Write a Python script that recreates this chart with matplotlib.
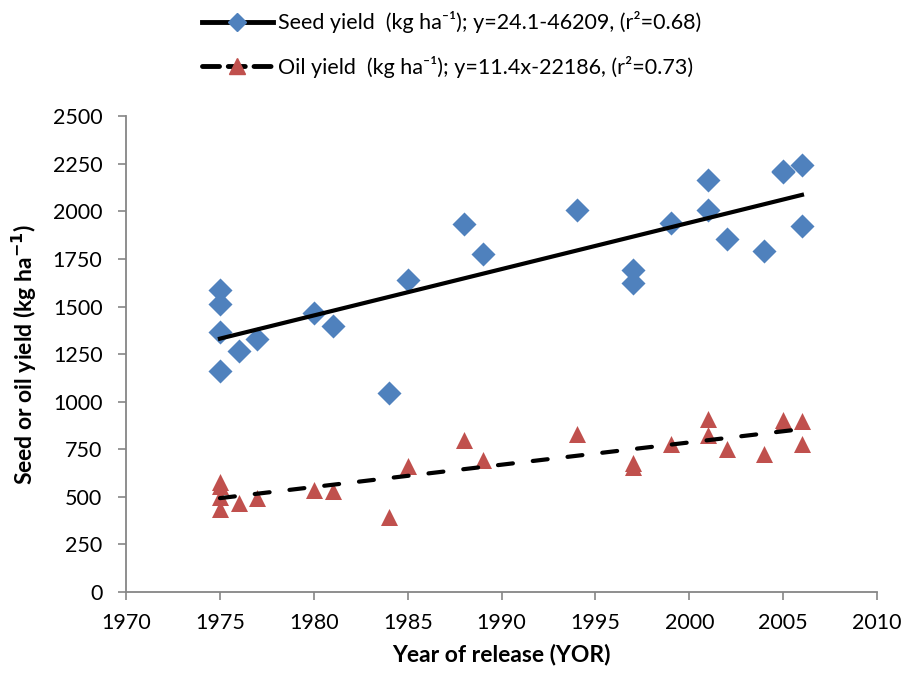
import numpy as np
import matplotlib.pyplot as plt
from matplotlib.lines import Line2D

plt.rcParams['font.family'] = ['Lato', 'DejaVu Sans']

# data
seed_year = [1975, 1975, 1975, 1975, 1976, 1977, 1980, 1981, 1984, 1985, 1988, 1989,
             1994, 1997, 1997, 1999, 2001, 2001, 2002, 2004, 2005, 2005, 2006, 2006]
seed_yield = [1586, 1513, 1367, 1162, 1267, 1327, 1464, 1399, 1044, 1639, 1933, 1774,
              2006, 1691, 1621, 1936, 2167, 2006, 1857, 1791, 2204, 2212, 2243, 1922]
oil_year = [1975, 1975, 1975, 1975, 1976, 1977, 1980, 1981, 1984, 1985, 1988, 1989,
            1994, 1997, 1997, 1999, 2001, 2001, 2002, 2004, 2005, 2005, 2006, 2006]
oil_yield = [579, 555, 500, 435, 466, 492, 536, 532, 396, 662, 798, 693,
             828, 676, 658, 776, 909, 825, 751, 725, 903, 886, 900, 776]

seed_label = "Seed yield  (kg ha\u207b\u00b9); y=24.1-46209, (r\u00b2=0.68)"
oil_label = "Oil yield  (kg ha\u207b\u00b9); y=11.4x-22186, (r\u00b2=0.73)"

blue = '#4F81BD'
red = '#C0504D'
grey = '#868686'

fig = plt.figure(figsize=(9.07, 6.79), dpi=100)
ax = fig.add_axes([0.139, 0.128, 0.828, 0.701])

ax.scatter(seed_year, seed_yield, marker='D', s=150, color=blue, zorder=3, linewidths=0)
ax.scatter(oil_year, oil_yield, marker='^', s=150, color=red, zorder=3, linewidths=0)

# linear trend lines (least squares like Excel)
xs = np.array([min(seed_year), max(seed_year)])
p = np.polyfit(seed_year, seed_yield, 1)
ax.plot(xs, np.polyval(p, xs), color='black', lw=3, zorder=4)
xo = np.array([min(oil_year), max(oil_year)])
q = np.polyfit(oil_year, oil_yield, 1)
ax.plot(xo, np.polyval(q, xo), color='black', lw=3, ls=(0, (3.6, 4.8)),
        dash_capstyle='round', zorder=4)

ax.set_xlim(1970, 2010)
ax.set_ylim(0, 2500)
ax.set_xticks(range(1970, 2011, 5))
ax.set_yticks(range(0, 2501, 250))
ax.tick_params(labelsize=15.5, length=6, width=1.2, color=grey, direction='out')
ax.tick_params(axis='y', pad=11)
ax.tick_params(axis='x', pad=9)
for s in ['top', 'right']:
    ax.spines[s].set_visible(False)
for s in ['left', 'bottom']:
    ax.spines[s].set_color(grey)
    ax.spines[s].set_linewidth(1.3)

ax.set_xlabel('Year of release (YOR)', fontsize=16.5, fontweight='bold', labelpad=8)
ax.set_ylabel('Seed or oil yield (kg ha$^{\\mathbf{-1}}$)', fontsize=16.5,
              fontweight='bold', labelpad=10)

handles = [
    Line2D([], [], color='black', lw=3.5, marker='D', markersize=9,
           markerfacecolor=blue, markeredgecolor=blue),
    Line2D([], [], color='black', lw=3.5, ls=(0, (3.5, 1.8)), dash_capstyle='round',
           marker='^', markersize=12, markerfacecolor=red, markeredgecolor=red),
]
fig.legend(handles, [seed_label, oil_label], loc='upper center',
           bbox_to_anchor=(0.498, 1.012), frameon=False, fontsize=15.5,
           handlelength=3.3, handletextpad=0.25, labelspacing=1.05)

fig.savefig('out.png', dpi=100)
